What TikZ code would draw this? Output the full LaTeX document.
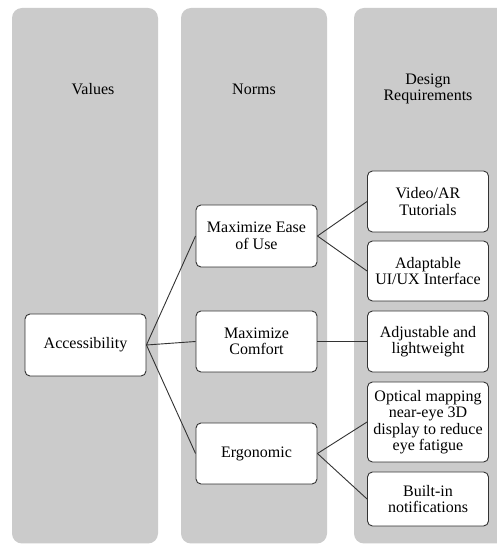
\documentclass[tikz,border=0pt]{standalone}
\usepackage{fontspec}
\setmainfont{Liberation Serif}
\begin{document}
\begin{tikzpicture}[x=1pt,y=1pt,
  col/.style={fill=colgray,draw=none,rounded corners=10pt},
  box/.style={draw=boxline,fill=white,rounded corners=5pt,line width=0.9pt,align=center,
    minimum width=121pt,inner sep=2pt,font=\fontsize{16}{16.5}\selectfont},
  hdr/.style={align=center,font=\fontsize{16}{16.5}\selectfont},
  conn/.style={draw=boxline,line width=0.9pt}]
\definecolor{colgray}{HTML}{CBCBCB}
\definecolor{boxline}{HTML}{333333}
\useasboundingbox (0,0) rectangle (497,544);
\fill[white] (0,0) rectangle (497,544);
% columns
\path[col] (12,0.5) rectangle (158,536);
\path[col] (181,0.5) rectangle (327,536);
\path[col] (354,0.5) rectangle (507,536);
\fill[white] (497,0) rectangle (510,544);
% headers
\node[hdr] (hv) at (93,455) {Values};
\node[hdr] (hn) at (254,455) {Norms};
\node[hdr] (hd) at (428,455) {Design\\Requirements};
% boxes
\node[box,minimum height=62pt] (acc) at (85.5,199) {Accessibility};
\node[box,minimum height=62pt] (ease) at (256.5,308) {Maximize Ease\\of Use};
\node[box,minimum height=61pt] (comf) at (256.5,202.5) {Maximize\\Comfort};
\node[box,minimum height=61pt] (ergo) at (256.5,90.5) {Ergonomic};
\node[box,minimum height=61pt] (vid) at (428,342.5) {Video/AR\\Tutorials};
\node[box,minimum height=60pt] (adapt) at (428,273) {Adaptable\\UI/UX Interface};
\node[box,minimum height=61pt] (adj) at (428,202.5) {Adjustable and\\lightweight};
\node[box,minimum height=80pt] (opt) at (428,122) {Optical mapping\\near-eye 3D\\display to reduce\\eye fatigue};
\node[box,minimum height=54pt] (built) at (428,45) {Built-in\\notifications};
% connectors
\draw[conn] (acc.east) -- (ease.west);
\draw[conn] (acc.east) -- (comf.west);
\draw[conn] (acc.east) -- (ergo.west);
\draw[conn] (ease.east) -- (vid.west);
\draw[conn] (ease.east) -- (adapt.west);
\draw[conn] (comf.east) -- (adj.west);
\draw[conn] (ergo.east) -- (opt.west);
\draw[conn] (ergo.east) -- (built.west);
\end{tikzpicture}
\end{document}
